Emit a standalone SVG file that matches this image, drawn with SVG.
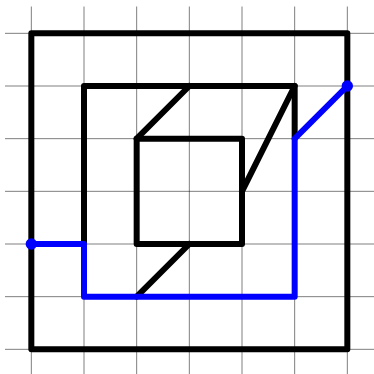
<svg xmlns="http://www.w3.org/2000/svg" width="374" height="374" viewBox="0 0 374 374">
<style>
.g{stroke:#000;stroke-width:1;stroke-opacity:.5;fill:none}
.k{stroke:#000;stroke-width:6;fill:none;stroke-linejoin:round;stroke-linecap:round}
.b{stroke:#00f;stroke-width:6;fill:none;stroke-linejoin:round;stroke-linecap:round}
.d{fill:#00f}
</style>
<rect width="374" height="374" fill="#fff"/>
<g id="grid">
<path class="g" d="M31.33 6.5V374M84 6.5V374M136.67 6.5V374M189.33 6.5V374M242 6.5V374M294.67 6.5V374M347.33 6.5V374"/>
<path class="g" d="M5 33.33H374M5 86H374M5 138.67H374M5 191.33H374M5 244H374M5 296.67H374M5 349.33H374"/>
</g>
<g id="black-lines">
<path class="k" d="M31.33 33.33H347.33V349.33H31.33Z"/>
<path class="k" d="M84 244V86H294.67V138.67"/>
<path class="k" d="M136.67 138.67H242V244H136.67Z"/>
<path class="k" d="M136.67 138.67L189.33 86"/>
<path class="k" d="M242 191.33L294.67 86"/>
<path class="k" d="M136.67 296.67L189.33 244"/>
</g>
<g id="blue-path">
<path class="b" d="M31.33 244H84V296.67H294.67V138.67L347.33 86"/>
<circle class="d" cx="31.33" cy="244" r="5.7"/>
<circle class="d" cx="347.33" cy="86" r="5.7"/>
</g>
</svg>
